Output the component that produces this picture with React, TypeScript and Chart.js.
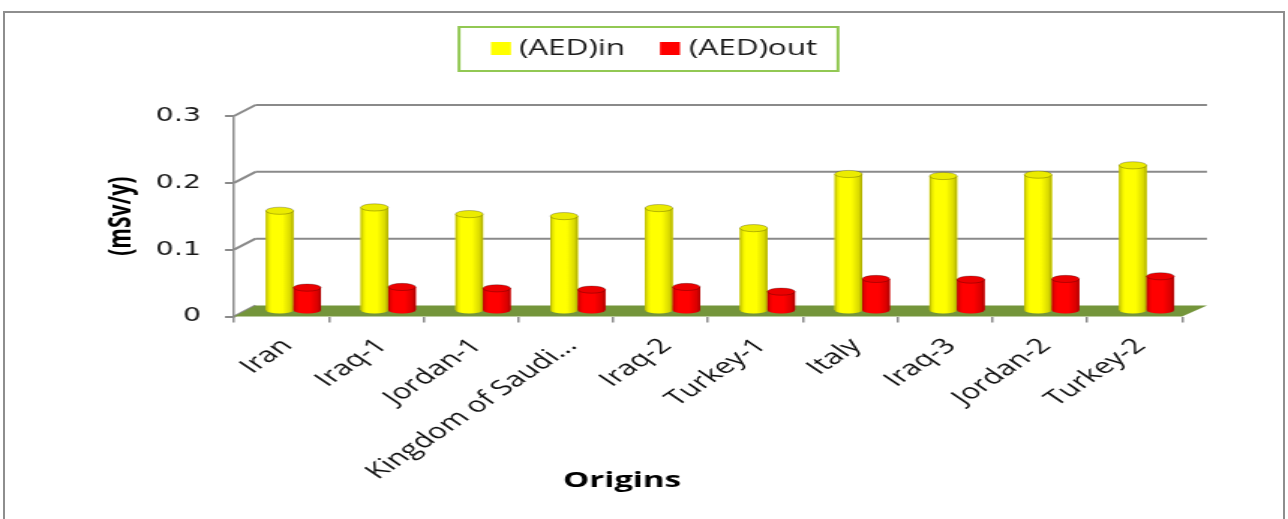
import React, { useEffect, useRef } from "react";
import { Chart, registerables } from "chart.js";

Chart.register(...registerables);

// ---------------- data ----------------
const categories = [
  "Iran",
  "Iraq-1",
  "Jordan-1",
  "Kingdom of Saudi...",
  "Iraq-2",
  "Turkey-1",
  "Italy",
  "Iraq-3",
  "Jordan-2",
  "Turkey-2",
];
const aedIn = [0.150, 0.155, 0.145, 0.142, 0.154, 0.124, 0.205, 0.202, 0.204, 0.218];
const aedOut = [0.035, 0.036, 0.034, 0.032, 0.036, 0.029, 0.048, 0.047, 0.048, 0.052];
const seriesNames = ["(AED)in", "(AED)out"];
const seriesColors = ["#ffff00", "#ff0000"];
const yTicks = [0, 0.1, 0.2, 0.3];
const yTitle = "(mSv/y)";
const xTitle = "Origins";

// ---------------- geometry (page px -> canvas px) ----------------
const PAGE_W = 1288;
const PAGE_H = 519;
const CW = 859;
const SX = PAGE_W / CW;
const px = (p: number) => p / SX;

const AREA_LEFT = px(234);
const AREA_RIGHT = px(1182);
const AREA_TOP = 116;
const AREA_BOTTOM = 316.5;
const Y_TITLE_FONT = 21;
const Y_SCALE_LEFT = px(121) - (Y_TITLE_FONT * 1.2) / 2 - 4;

const DXL = px(21.5);
const DXR = px(25);
const DY_BACK = -11;
const DX_MID = px(12);
const DY_MID = -5.5;
const RY = 3.6;

const GRID = "#8a8a8a";

const threeD = {
  id: "threeD",
  beforeDatasetsDraw(chart: any) {
    const { ctx, chartArea: a, scales } = chart;
    const y = scales.y;
    ctx.save();
    ctx.strokeStyle = GRID;
    ctx.lineWidth = 2;
    for (const v of yTicks) {
      const yf = y.getPixelForValue(v);
      const yb = yf + DY_BACK;
      ctx.beginPath();
      if (v > 0) {
        ctx.moveTo(a.left + DXL, yb);
        ctx.lineTo(a.right + DXR, yb);
      }
      ctx.moveTo(a.left, yf);
      ctx.lineTo(a.left + DXL, yb);
      ctx.stroke();
    }
    // floor
    const y0 = y.getPixelForValue(0);
    ctx.fillStyle = "#74953b";
    ctx.beginPath();
    ctx.moveTo(a.left, y0);
    ctx.lineTo(a.right, y0);
    ctx.lineTo(a.right + DXR, y0 + DY_BACK);
    ctx.lineTo(a.left + DXL, y0 + DY_BACK);
    ctx.closePath();
    ctx.fill();
    ctx.restore();
    ctx.save();
    ctx.translate(DX_MID, DY_MID);
  },
  afterDatasetsDraw(chart: any) {
    const { ctx } = chart;
    chart.data.datasets.forEach((ds: any, di: number) => {
      const meta = chart.getDatasetMeta(di);
      meta.data.forEach((el: any) => {
        const { x, y, base, width } = el.getProps(["x", "y", "base", "width"], true);
        const rx = width / 2;
        const l = x - rx;
        const r = x + rx;
        const body = () => {
          ctx.beginPath();
          ctx.moveTo(l, y);
          ctx.lineTo(l, base);
          ctx.ellipse(x, base, rx, RY, 0, Math.PI, 0, true);
          ctx.lineTo(r, y);
          ctx.closePath();
        };
        body();
        ctx.fillStyle = ds.backgroundColor;
        ctx.fill();
        const g = ctx.createLinearGradient(l, 0, r, 0);
        g.addColorStop(0, "rgba(0,0,0,0.32)");
        g.addColorStop(0.08, "rgba(0,0,0,0.10)");
        g.addColorStop(0.2, "rgba(0,0,0,0)");
        g.addColorStop(0.6, "rgba(0,0,0,0)");
        g.addColorStop(0.88, "rgba(0,0,0,0.15)");
        g.addColorStop(1, "rgba(0,0,0,0.34)");
        body();
        ctx.fillStyle = g;
        ctx.fill();
        // top cap
        ctx.beginPath();
        ctx.ellipse(x, y, rx, RY, 0, 0, Math.PI * 2);
        ctx.fillStyle = ds.backgroundColor;
        ctx.fill();
        ctx.fillStyle = "rgba(0,0,0,0.08)";
        ctx.fill();
        ctx.lineWidth = 1;
        ctx.strokeStyle = "rgba(0,0,0,0.25)";
        ctx.stroke();
      });
    });
    ctx.restore();
  },
  afterDraw(chart: any) {
    const { ctx } = chart;
    ctx.save();
    // legend box
    ctx.strokeStyle = "#92c853";
    ctx.lineWidth = 2;
    ctx.strokeRect(px(459), 27, px(838) - px(459), 44);
    const items = [
      { sq: 491, tx: 519 },
      { sq: 660, tx: 689 },
    ];
    ctx.font = "21px 'Open Sans'";
    ctx.textBaseline = "middle";
    ctx.textAlign = "left";
    chart.data.datasets.forEach((ds: any, i: number) => {
      const it = items[i];
      ctx.fillStyle = ds.backgroundColor;
      ctx.fillRect(px(it.sq), 42, px(it.sq + 20) - px(it.sq), 13);
      ctx.fillStyle = "#1a1a1a";
      ctx.fillText(ds.label, px(it.tx), 49);
    });
    // x axis title
    ctx.font = "bold 22px 'Open Sans'";
    ctx.textAlign = "center";
    ctx.textBaseline = "alphabetic";
    ctx.fillStyle = "#000";
    ctx.fillText(xTitle, px(622), 487);
    ctx.restore();
  },
};

export default function App() {
  const canvasRef = useRef<HTMLCanvasElement | null>(null);

  useEffect(() => {
    if (!canvasRef.current) return;
    const chart = new Chart(canvasRef.current, {
      type: "bar",
      data: {
        labels: categories,
        datasets: [
          { label: seriesNames[0], data: aedIn, backgroundColor: seriesColors[0], borderWidth: 0, clip: false as any },
          { label: seriesNames[1], data: aedOut, backgroundColor: seriesColors[1], borderWidth: 0, clip: false as any },
        ],
      },
      options: {
        animation: false,
        responsive: true,
        maintainAspectRatio: false,
        devicePixelRatio: 1,
        events: [],
        datasets: { bar: { categoryPercentage: 0.58, barPercentage: 1.0 } },
        layout: {
          padding: { left: Y_SCALE_LEFT, right: CW - AREA_RIGHT, top: AREA_TOP, bottom: 0 },
        },
        plugins: {
          legend: { display: false },
          tooltip: { enabled: false },
          title: { display: false },
        },
        scales: {
          x: {
            offset: true,
            border: { display: false },
            grid: {
              display: true,
              drawOnChartArea: false,
              drawTicks: true,
              tickLength: 6,
              color: GRID,
              lineWidth: 1.5,
              offset: true,
            },
            ticks: {
              autoSkip: false,
              minRotation: 45,
              maxRotation: 45,
              padding: 11,
              labelOffset: 4,
              color: "#111",
              font: { family: "'Open Sans'", size: 21 },
            },
            afterFit: (s: any) => {
              s.height = PAGE_H - AREA_BOTTOM;
            },
          },
          y: {
            min: 0,
            max: 0.3,
            afterBuildTicks: (s: any) => {
              s.ticks = yTicks.map((v) => ({ value: v }));
            },
            border: { display: true, color: GRID, width: 1.5 },
            grid: { drawOnChartArea: false, drawTicks: true, tickLength: 6, color: GRID, lineWidth: 2 },
            ticks: {
              padding: 16,
              color: "#1a1a1a",
              font: { family: "'DejaVu Sans'", size: 19 },
              callback: (v: any) => (Number(v) === 0 ? "0" : Number(v).toFixed(1)),
            },
            title: {
              display: true,
              text: yTitle,
              color: "#000",
              font: { family: "'Open Sans'", size: Y_TITLE_FONT, weight: "bold" },
              padding: { top: 4, bottom: 4 },
            },
            afterFit: (s: any) => {
              s.width = AREA_LEFT - Y_SCALE_LEFT;
            },
          },
        },
      },
      plugins: [threeD],
    });
    return () => chart.destroy();
  }, []);

  return (
    <div style={{ position: "absolute", left: 0, top: 0, width: PAGE_W, height: PAGE_H, background: "#fff", overflow: "hidden" }}>
      <div
        style={{
          position: "absolute",
          left: 0,
          top: 0,
          width: CW,
          height: PAGE_H,
          transform: `scaleX(${SX})`,
          transformOrigin: "0 0",
        }}
      >
        <canvas ref={canvasRef} />
      </div>
      <div
        style={{
          position: "absolute",
          left: 3,
          top: 11,
          width: 1282,
          height: 600,
          boxSizing: "border-box",
          border: "2px solid #8e8e8e",
          pointerEvents: "none",
        }}
      />
    </div>
  );
}
